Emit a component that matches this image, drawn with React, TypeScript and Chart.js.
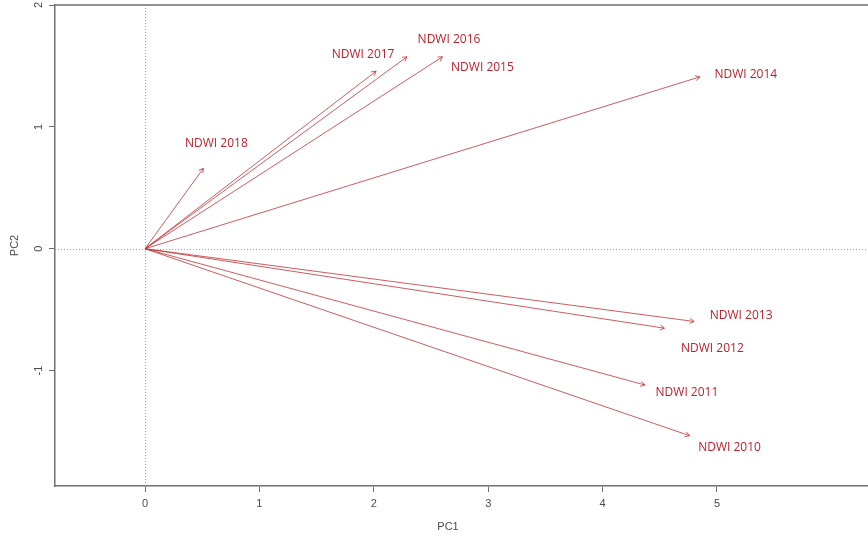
import React, { useEffect, useRef } from "react";
import { Chart, registerables } from "chart.js";

Chart.register(...registerables);

// PCA loadings of the yearly NDWI variables (biplot arrows)
const variables = [
  "NDWI 2010",
  "NDWI 2011",
  "NDWI 2012",
  "NDWI 2013",
  "NDWI 2014",
  "NDWI 2015",
  "NDWI 2016",
  "NDWI 2017",
  "NDWI 2018",
];
const pc1Loadings = [4.76, 4.37, 4.54, 4.8, 4.85, 2.6, 2.29, 2.02, 0.51];
const pc2Loadings = [-1.534, -1.118, -0.652, -0.597, 1.41, 1.575, 1.575, 1.457, 0.66];

const xTicks = [0, 1, 2, 3, 4, 5];
const yTicks = [-1, 0, 1, 2];
const xTitle = "PC1";
const yTitle = "PC2";

// pixel nudges for the variable names relative to each arrow tip
const labelOffsets: [number, number][] = [
  [40, 12],
  [42, 8],
  [48, 20],
  [47, -6],
  [46, -2],
  [40, 11],
  [42, -17],
  [-13, -17],
  [13, -25],
];

const ARROW_COLOR = "rgba(196, 50, 55, 0.8)";
const LABEL_COLOR = "#bd1f2b";
const AXIS_COLOR = "#6f6f6f";
const TEXT_COLOR = "#4a4a4a";

const biplotPlugin = {
  id: "biplotDecor",
  beforeDatasetsDraw(chart: any) {
    const { ctx, chartArea, scales } = chart;
    const x0 = scales.x.getPixelForValue(0);
    const y0 = scales.y.getPixelForValue(0);
    ctx.save();
    ctx.strokeStyle = "#a0a0a0";
    ctx.lineWidth = 1;
    ctx.setLineDash([1, 2]);
    ctx.beginPath();
    ctx.moveTo(Math.round(x0) + 0.5, chartArea.top);
    ctx.lineTo(Math.round(x0) + 0.5, chartArea.bottom);
    ctx.moveTo(chartArea.left, Math.round(y0) + 0.5);
    ctx.lineTo(chartArea.right, Math.round(y0) + 0.5);
    ctx.stroke();
    ctx.restore();
  },
  afterDatasetsDraw(chart: any) {
    const { ctx, scales } = chart;
    const x0 = scales.x.getPixelForValue(0);
    const y0 = scales.y.getPixelForValue(0);
    ctx.save();
    variables.forEach((name, i) => {
      const tx = scales.x.getPixelForValue(pc1Loadings[i]);
      const ty = scales.y.getPixelForValue(pc2Loadings[i]);
      const ang = Math.atan2(ty - y0, tx - x0);
      const len = 5;
      const spread = Math.PI / 6;
      ctx.strokeStyle = ARROW_COLOR;
      ctx.lineWidth = 1;
      ctx.beginPath();
      ctx.moveTo(tx - len * Math.cos(ang - spread), ty - len * Math.sin(ang - spread));
      ctx.lineTo(tx, ty);
      ctx.lineTo(tx - len * Math.cos(ang + spread), ty - len * Math.sin(ang + spread));
      ctx.stroke();

      const [dx, dy] = labelOffsets[i];
      ctx.fillStyle = LABEL_COLOR;
      ctx.font = "12px 'Open Sans'";
      ctx.textAlign = "center";
      ctx.textBaseline = "middle";
      ctx.fillText(name, tx + dx, ty + dy);
    });
    ctx.restore();
  },
  afterDraw(chart: any) {
    const { ctx, chartArea } = chart;
    ctx.save();
    // top edge of the plot box
    ctx.strokeStyle = AXIS_COLOR;
    ctx.lineWidth = 1.5;
    ctx.beginPath();
    ctx.moveTo(chartArea.left, chartArea.top);
    ctx.lineTo(chartArea.right, chartArea.top);
    ctx.stroke();
    // x-axis title
    ctx.fillStyle = TEXT_COLOR;
    ctx.font = "11px 'Liberation Sans'";
    ctx.textAlign = "center";
    ctx.textBaseline = "middle";
    ctx.fillText(xTitle, chartArea.left + 393, 527);
    ctx.restore();
  },
};

export default function App() {
  const canvasRef = useRef<HTMLCanvasElement | null>(null);

  useEffect(() => {
    if (!canvasRef.current) return;
    const datasets = variables.map((name, i) => ({
      label: name,
      data: [
        { x: 0, y: 0 },
        { x: pc1Loadings[i], y: pc2Loadings[i] },
      ],
      showLine: true,
      borderColor: ARROW_COLOR,
      borderWidth: 1,
      pointRadius: 0,
      fill: false,
    }));

    const tickFont = { family: "'Liberation Sans', Arial, sans-serif", size: 11 };

    const chart = new Chart(canvasRef.current, {
      type: "scatter",
      data: { datasets },
      plugins: [biplotPlugin],
      options: {
        animation: false,
        responsive: true,
        maintainAspectRatio: false,
        layout: { padding: { top: 5, left: 0, right: 0, bottom: 0 } },
        plugins: {
          legend: { display: false },
          tooltip: { enabled: false },
        },
        scales: {
          x: {
            type: "linear",
            min: -0.787,
            max: 6.32,
            afterBuildTicks: (s: any) => {
              s.ticks = xTicks.map((v) => ({ value: v }));
            },
            afterFit: (s: any) => {
              s.height = 51;
              s.paddingLeft = 0;
              s.paddingRight = 0;
            },
            grid: {
              display: true,
              drawOnChartArea: false,
              drawTicks: true,
              tickLength: 6,
              color: AXIS_COLOR,
              lineWidth: 1,
            },
            border: { display: true, color: AXIS_COLOR, width: 1.5 },
            ticks: {
              color: TEXT_COLOR,
              font: tickFont,
              padding: 5,
              maxRotation: 0,
              callback: (v: any) => String(v),
            },
            title: { display: false },
          },
          y: {
            type: "linear",
            min: -1.947,
            max: 2,
            afterBuildTicks: (s: any) => {
              s.ticks = yTicks.map((v) => ({ value: v }));
            },
            afterFit: (s: any) => {
              s.width = 55;
              s.paddingTop = 0;
              s.paddingBottom = 0;
            },
            grid: {
              display: true,
              drawOnChartArea: false,
              drawTicks: true,
              tickLength: 6,
              color: AXIS_COLOR,
              lineWidth: 1,
            },
            border: { display: true, color: AXIS_COLOR, width: 1.5 },
            ticks: {
              color: TEXT_COLOR,
              font: tickFont,
              padding: 5,
              minRotation: 90,
              maxRotation: 90,
              crossAlign: "center",
              callback: (v: any) => String(v),
            },
            title: {
              display: true,
              text: yTitle,
              color: TEXT_COLOR,
              font: tickFont,
              padding: { top: 8, bottom: 0 },
            },
          },
        },
      },
    } as any);

    return () => chart.destroy();
  }, []);

  return (
    <div
      style={{
        position: "fixed",
        left: 0,
        top: 0,
        width: 868,
        height: 537,
        background: "#ffffff",
      }}
    >
      <canvas ref={canvasRef} />
    </div>
  );
}
